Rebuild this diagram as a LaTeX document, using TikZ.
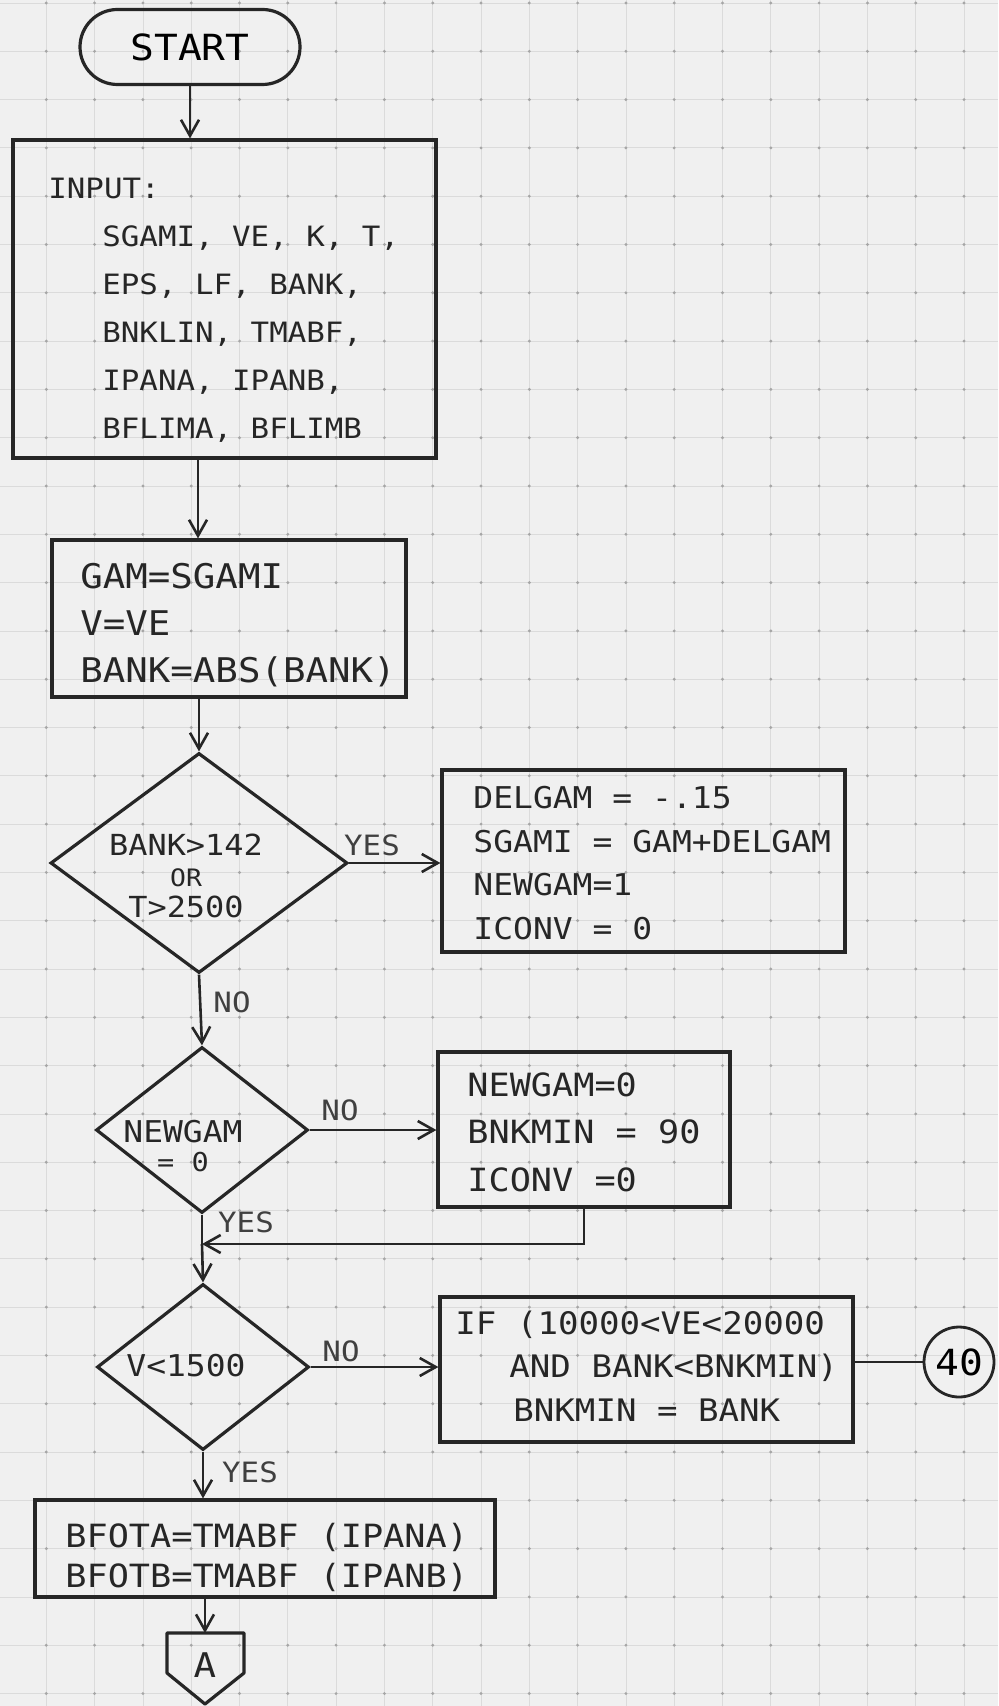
\documentclass[tikz,border=0pt]{standalone}
\usepackage{fontspec}
\newfontfamily\hand[FakeStretch=1.1]{DejaVu Sans Mono}
\usetikzlibrary{arrows.meta,shapes.geometric,shapes.misc}
\begin{document}
\begin{tikzpicture}[x=0.5pt,y=-0.5pt,
  ink/.style={draw=black!85, line width=1.6pt},
  boxnode/.style={ink, rectangle, inner sep=0pt},
  dia/.style={ink, diamond, inner sep=0pt},
  conn/.style={draw=black!85, line width=1.3pt},
  arr/.style={conn, -{Straight Barb[length=8pt,width=9pt]}},
  txt/.style={inner sep=0pt, text=black!85, align=left},
  lbl/.style={inner sep=0pt, text=black!75, font=\hand\fontsize{14pt}{16pt}\selectfont},
]
\useasboundingbox (0,0) rectangle (998,1706);
\fill[black!6] (0,0) rectangle (998,1706);
% graph paper
\foreach \i in {1,...,20} { \draw[black!14, line width=0.4pt] ({-2+48.3*\i},0) -- ({-2+48.3*\i},1706); }
\foreach \j in {0,...,35} { \draw[black!14, line width=0.4pt] (0,{3+48.3*\j}) -- (998,{3+48.3*\j}); }
\foreach \i in {1,...,20} { \foreach \j in {0,...,35} { \fill[black!35] ({-2+48.3*\i},{3+48.3*\j}) circle (0.8pt); } }

% START
\node[boxnode, rounded rectangle, minimum width=110pt, minimum height=37.5pt, font=\hand\fontsize{18pt}{20pt}\selectfont] (start) at (190,47) {START};

% INPUT
\node[boxnode, minimum width=211.5pt, minimum height=159pt] (input) at (224.5,299) {};
\node[txt, anchor=west, font=\hand\fontsize{14pt}{24pt}\selectfont] (inputtxt) at (48,310)
  {INPUT:\\\hspace*{27pt}SGAMI, VE, K, T,\\\hspace*{27pt}EPS, LF, BANK,\\\hspace*{27pt}BNKLIN, TMABF,\\\hspace*{27pt}IPANA, IPANB,\\\hspace*{27pt}BFLIMA, BFLIMB};
\draw[arr] (start.south) -- (start.south |- input.north);

% GAM box
\node[boxnode, minimum width=177pt, minimum height=78.5pt] (gam) at (229,618.5) {};
\node[txt, anchor=west, font=\hand\fontsize{17pt}{23.5pt}\selectfont] (gamtxt) at (80,625)
  {GAM=SGAMI\\V=VE\\BANK=ABS(BANK)};
\coordinate (colA) at (198,0);
\draw[arr] (input.south -| colA) -- (gam.north -| colA);

% decision 1
\node[dia, minimum width=148.5pt, minimum height=110pt] (d1) at (199,863) {};
\node[txt, align=center, font=\hand\fontsize{14.5pt}{15.5pt}\selectfont] (d1txt) at (186,876)
  {BANK>142\\{\fontsize{12pt}{15.5pt}\selectfont OR}\\T>2500};
\draw[arr] (gam.south -| d1.north) -- (d1.north);

% DELGAM box
\node[boxnode, minimum width=201.5pt, minimum height=91pt] (del) at (643.5,861) {};
\node[txt, anchor=west, font=\hand\fontsize{15pt}{21.7pt}\selectfont] (deltxt) at (473,863)
  {DELGAM = -.15\\SGAMI = GAM+DELGAM\\NEWGAM=1\\ICONV = 0};
\draw[arr] (d1.east) -- (d1.east -| del.west);
\node[lbl] (yes1) at (372,845) {YES};

% decision 2
\node[lbl] (no1) at (232,1002) {NO};
\node[dia, minimum width=106pt, minimum height=83pt] (d2) at (202,1130) {};
\node[txt, align=center, font=\hand\fontsize{15pt}{14.5pt}\selectfont] (d2txt) at (183,1146)
  {NEWGAM\\{\fontsize{13pt}{14.5pt}\selectfont = 0}};
\draw[arr] (d1.south) -- (d2.north);

% NEWGAM box
\node[boxnode, minimum width=146pt, minimum height=77.5pt] (newg) at (584,1129.5) {};
\node[txt, anchor=west, font=\hand\fontsize{16pt}{23.75pt}\selectfont] (newgtxt) at (467,1132)
  {NEWGAM=0\\BNKMIN = 90\\ICONV =0};
\draw[arr] (d2.east) -- (d2.east -| newg.west);
\node[lbl] (no2) at (340,1110) {NO};
\node[lbl] (yes2) at (246,1222) {YES};
\coordinate (merge) at (202,1244);
\draw[arr] (newg.south) |- (merge);
\draw[conn] (d2.south) -- (merge);

% decision 3
\node[dia, minimum width=106pt, minimum height=83pt] (d3) at (203,1367) {};
\node[txt, font=\hand\fontsize{15pt}{17pt}\selectfont] (d3txt) at (186,1366) {V<1500};
\draw[arr] (merge) -- (d3.north);

% IF box
\node[boxnode, minimum width=206.5pt, minimum height=72.5pt] (ifb) at (646.5,1369.5) {};
\node[txt, anchor=west, font=\hand\fontsize{15.5pt}{21.75pt}\selectfont] (ifbtxt) at (455,1366)
  {IF (10000<VE<20000\\\hspace*{27pt}AND BANK<BNKMIN)\\\hspace*{29pt}BNKMIN = BANK};
\draw[arr] (d3.east) -- (d3.east -| ifb.west);
\node[lbl] (no3) at (341,1351) {NO};
\node[draw=black!85, line width=1.4pt, circle, minimum size=35pt, inner sep=0pt, font=\hand\fontsize{18pt}{20pt}\selectfont] (c40) at (959,1362) {40};
\draw[conn] (c40.west -| ifb.east) -- (c40.west);

% BFOTA box
\node[lbl] (yes3) at (250,1472) {YES};
\node[boxnode, minimum width=230pt, minimum height=48.5pt] (bf) at (265,1548.5) {};
\node[txt, anchor=west, font=\hand\fontsize{16pt}{20pt}\selectfont] (bftxt) at (65,1557)
  {BFOTA=TMABF (IPANA)\\BFOTB=TMABF (IPANB)};
\draw[arr] (d3.south) -- (d3.south |- bf.north);

% off-page connector A
\coordinate (offtop) at (205,1633);
\draw[ink, line join=round] (167,1633) -- (244,1633) -- (244,1673) -- (205,1704) -- (167,1673) -- cycle;
\node[txt, font=\hand\fontsize{17pt}{19pt}\selectfont] (offA) at (205,1665) {A};
\draw[arr] (offtop |- bf.south) -- (offtop);
\end{tikzpicture}
\end{document}
